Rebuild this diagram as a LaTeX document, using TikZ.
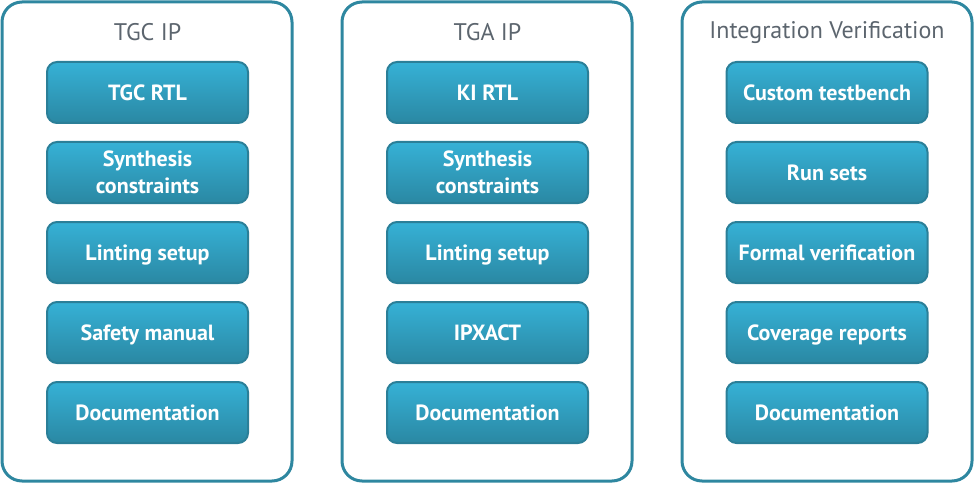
\documentclass[tikz,border=0pt]{standalone}
\usepackage{fontspec}
\setmainfont{PT Sans}
\usepackage{tikz}

\definecolor{frameblue}{HTML}{2E87A0}
\definecolor{blocktop}{HTML}{36B1D6}
\definecolor{blockbottom}{HTML}{2A88A3}
\definecolor{blockedge}{HTML}{2B7F98}
\definecolor{titlegray}{HTML}{5C656E}

\tikzset{
  ipframe/.style={draw=frameblue, line width=3pt, rounded corners=20pt,
    minimum width=290pt, minimum height=479pt, inner sep=0pt},
  iptitle/.style={text=titlegray, font=\fontsize{24}{28}\selectfont},
  ipblock/.style={draw=blockedge, line width=2pt, rounded corners=10pt,
    top color=blocktop, bottom color=blockbottom, text=white,
    minimum width=201pt, minimum height=61pt, align=center, text depth=0pt,
    font=\bfseries\fontsize{22}{27}\selectfont}
}

\begin{document}
\begin{tikzpicture}[x=1pt,y=-1pt]

\useasboundingbox (0,0) rectangle (974,484);

% TGC IP
\node[ipframe] (tgc) at (147,241.5) {};
\node[iptitle] (tgctitle) at (147.5,32.5) {TGC IP};
\node[ipblock] (tgcrtl) at (147.5,92.5) {TGC RTL};
\node[ipblock] (tgcsyn) at (147.5,172.5) {Synthesis\\constraints};
\node[ipblock] (tgclint) at (147.5,252.5) {Linting setup};
\node[ipblock] (tgcsafety) at (147.5,332.5) {Safety manual};
\node[ipblock] (tgcdoc) at (147.5,412.5) {Documentation};

% TGA IP
\node[ipframe] (tga) at (487,241.5) {};
\node[iptitle] (tgatitle) at (487.5,32.5) {TGA IP};
\node[ipblock] (tgarll) at (487.5,92.5) {KI RTL};
\node[ipblock] (tgasyn) at (487.5,172.5) {Synthesis\\constraints};
\node[ipblock] (tgalint) at (487.5,252.5) {Linting setup};
\node[ipblock] (tgaipx) at (487.5,332.5) {IPXACT};
\node[ipblock] (tgadoc) at (487.5,412.5) {Documentation};

% Integration Verification
\node[ipframe] (intver) at (827,241.5) {};
\node[iptitle] (intvertitle) at (827,32.5) {Integration Verification};
\node[ipblock] (intvertb) at (827,92.5) {Custom testbench};
\node[ipblock] (intverrun) at (827,172.5) {Run sets};
\node[ipblock] (intverformal) at (827,252.5) {Formal verification};
\node[ipblock] (intvercov) at (827,332.5) {Coverage reports};
\node[ipblock] (intverdoc) at (827,412.5) {Documentation};

\end{tikzpicture}
\end{document}
